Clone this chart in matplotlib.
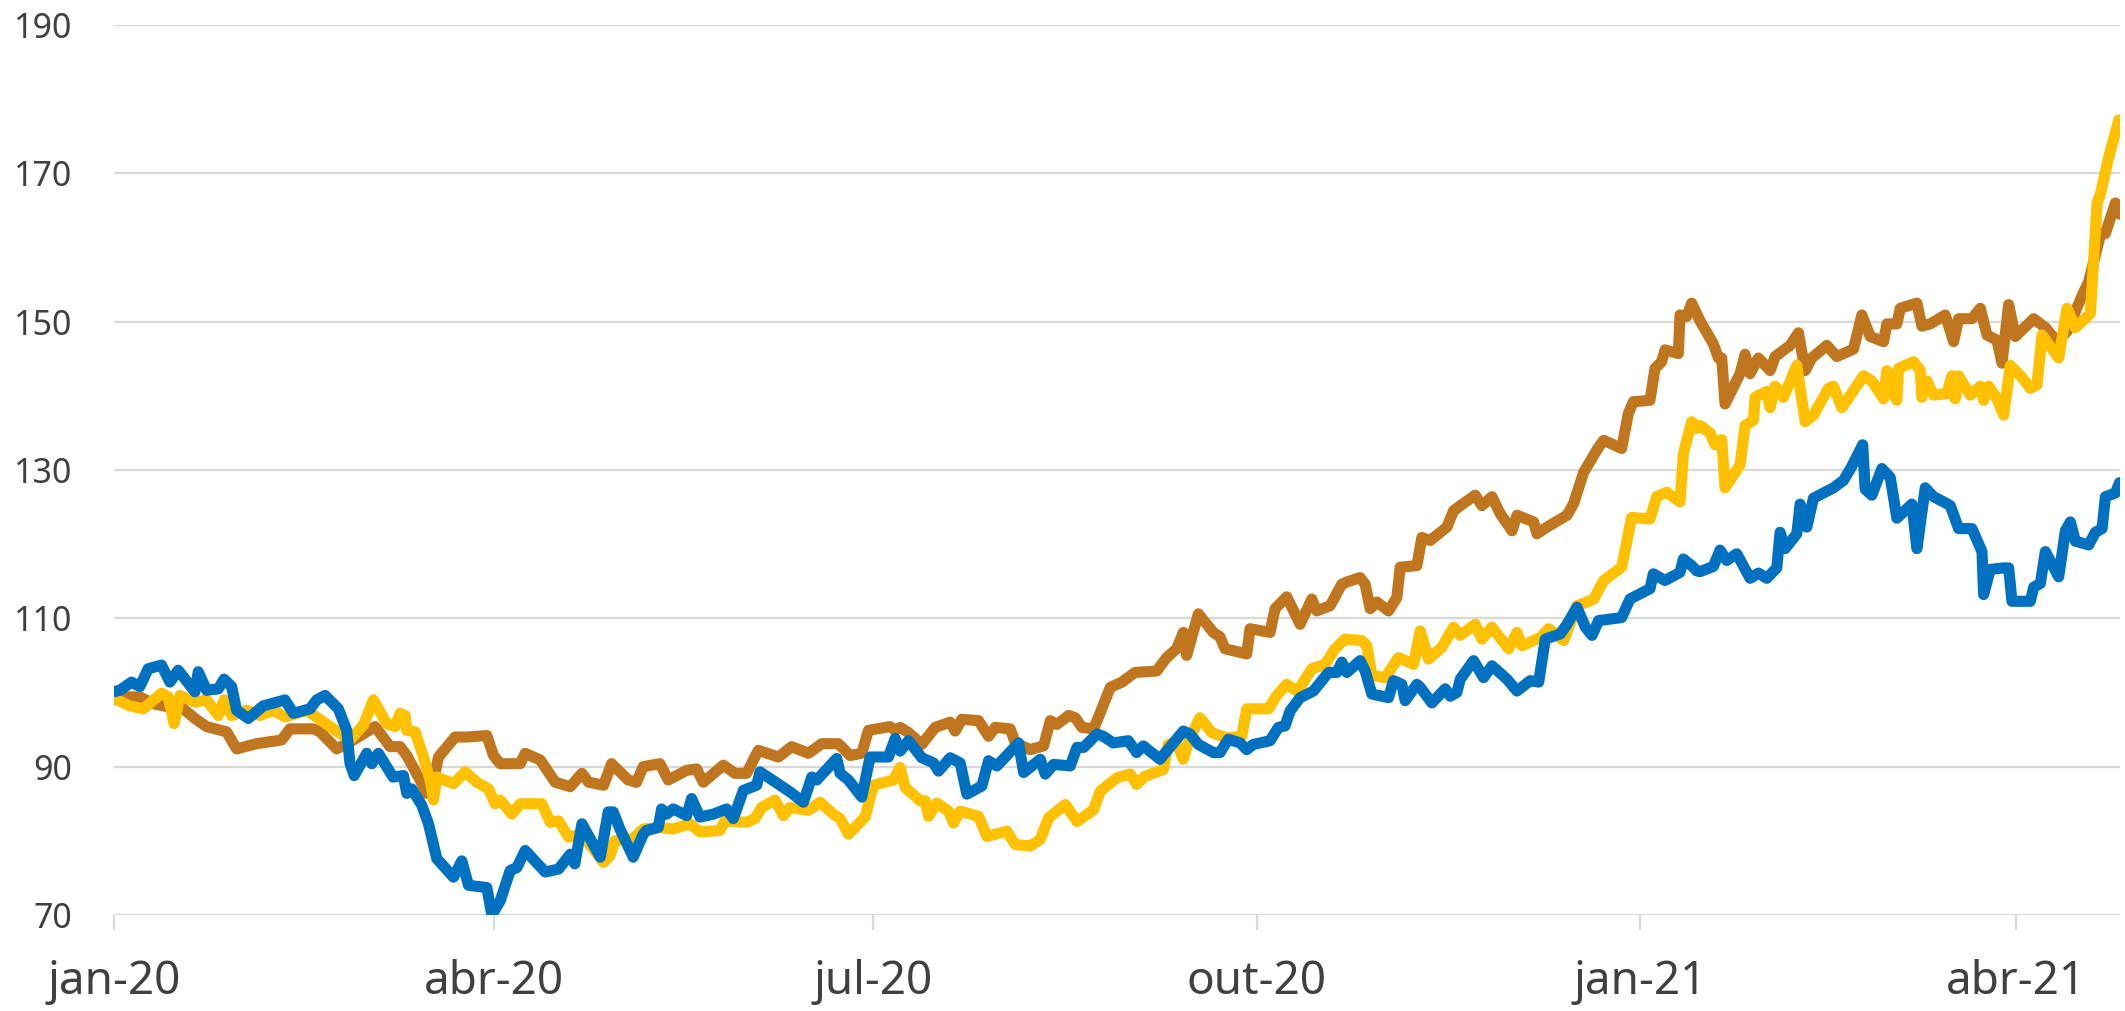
import numpy as np
import pandas as pd
import matplotlib
matplotlib.use("Agg")
import matplotlib.pyplot as plt

# Index series (base 100 on 2020-01-01); x values are days since 2020-01-01.
start_date = "2020-01-01"

blue_days = [
    0, 1.4, 4.2, 6.2, 8.2, 11.4, 13.4, 15.4, 19.4, 20.2, 22.2, 25.0, 26.4, 28.2, 29.4,
    32.2, 35.8, 41.0, 43.0, 47.0, 48.6, 50.6, 53.8, 55.8, 56.6, 57.6, 60.6, 61.8, 63.4,
    66.9, 69.4, 70.2, 71.4, 73.8, 75.4, 77.4, 81.4, 83.4, 85.0, 89.4, 90.6,
    92.6, 95.0, 96.6, 98.6, 103.4, 106.6, 109.4, 110.5, 112.2, 116.6, 118.5, 119.7,
    121.3, 124.5, 126.9, 127.7, 130.5, 131.3, 132.5, 134.1, 137.3, 138.5, 140.5, 143.7,
    146.9, 148.5, 150.9, 154.1, 154.9, 159.7, 162.1, 165.3, 167.3, 168.5, 173.3, 174.1,
    176.1, 179.3, 181.3, 185.7, 187.3,
    188.5, 190.5, 193.7, 196.5, 197.7, 200.5, 202.9, 204.5, 208.1, 209.7, 211.7, 216.9,
    218.1, 222.1, 223.3, 225.3, 229.3, 230.9, 232.5, 235.7, 237.2, 239.6, 243.2, 245.2,
    246.8, 250.8, 252.4, 256.4, 258.0, 260.0, 263.6, 265.2, 267.2, 270.0, 271.6, 273.2,
    277.2, 279.2, 280.8, 282.0,
    284.4, 287.6, 291.2, 293.2, 294.4, 295.6, 298.8, 300.0, 301.6, 305.6, 306.8, 308.8,
    309.6, 312.4, 313.2, 316.0, 319.2, 320.4, 322.0, 322.8, 326.0, 328.4, 330.4, 334.0,
    336.4, 339.6, 341.6, 343.2, 346.8, 348.4, 350.8, 352.8, 354.4, 356.0, 361.5, 363.5,
    368.3, 369.1, 371.9, 375.5, 376.3, 378.3, 379.5,
    380.3, 383.5, 385.1, 386.7, 389.1, 392.3, 394.3, 396.3, 398.7, 399.5, 400.7, 403.5,
    404.3, 405.9, 407.5, 412.3, 414.7, 416.7, 419.3, 419.9, 421.5, 423.9, 425.9, 427.5,
    431.1, 432.3, 434.3, 436.3, 438.7, 440.3, 442.3, 445.5, 447.9, 448.3, 449.9, 453.1,
    454.3, 455.1, 459.5, 460.3, 461.9, 463.1, 466.3, 467.9, 469.1, 470.3, 473.5, 475.1,
    476.7, 477.5, 479.9, 480.9,
]
blue_vals = [
    100.1, 100.3, 101.4, 100.8, 103.2, 103.7, 101.4, 103.0, 100.1, 102.8, 100.3, 100.5,
    101.8, 100.8, 97.6, 96.5, 98.2, 99.0, 97.2, 97.8, 99.0, 99.6, 97.8, 94.9, 90.4, 88.8,
    91.8, 90.4, 91.8, 88.6, 88.8, 86.4, 87.0, 84.8, 82.3, 77.6, 75.1, 77.3, 74.0, 73.7, 70.0,
    71.9, 76.0, 76.4, 78.7, 75.8, 76.2, 78.2, 76.9, 82.3, 77.8, 83.9, 83.9, 81.6, 77.8,
    80.9, 81.4, 81.8, 84.3, 83.6, 84.3, 83.4, 85.7, 83.2, 83.6, 84.3, 83.0, 86.8, 87.5,
    89.3, 87.5, 86.6, 85.2, 88.6, 88.2, 91.1, 89.1, 88.2, 85.9, 91.3, 91.3, 93.8,
    92.1, 93.5, 91.2, 90.5, 89.4, 91.2, 90.5, 86.3, 87.4, 90.8, 90.1, 93.2, 89.2, 91.0,
    89.0, 90.3, 90.1, 92.6, 92.6, 94.4, 94.1, 93.2, 93.5, 91.9, 92.8, 91.0, 92.1, 94.8,
    94.4, 93.0, 91.9, 91.9, 93.7, 93.2, 92.3, 93.0, 93.5, 95.3, 95.5, 97.5,
    99.3, 100.2, 102.7, 102.7, 104.1, 102.7, 104.3, 102.9, 99.8, 99.3, 101.6, 101.1, 98.9,
    101.1, 100.7, 98.6, 100.5, 99.5, 100.0, 101.8, 104.3, 102.0, 103.6, 101.8, 100.2,
    101.6, 101.4, 107.2, 107.9, 109.2, 111.5, 108.8, 107.7, 109.7, 110.1, 112.6, 114.0,
    116.0, 115.1, 116.2, 118.0, 117.1, 116.4,
    116.3, 117.0, 119.2, 117.8, 118.7, 115.4, 116.1, 115.4, 116.8, 121.6, 119.4, 121.4,
    125.4, 122.3, 126.2, 127.6, 128.6, 130.5, 133.4, 127.4, 126.6, 130.2, 129.0, 123.5,
    125.4, 119.4, 127.6, 126.4, 125.7, 125.2, 122.1, 122.1, 119.0, 113.2, 116.6, 116.8,
    116.8, 112.3, 112.3, 114.2, 114.7, 119.0, 115.6, 121.8, 123.0, 120.4, 119.9, 121.6,
    122.1, 126.4, 126.9, 128.3,
]

gold_days = [
    0, 3.8, 7.0, 11.4, 13.0, 14.4, 15.8, 19.4, 22.2, 25.0, 26.4, 28.2, 31.8, 35.0, 38.2,
    41.0, 46.2, 52.6, 56.6, 59.8, 62.2, 65.4, 67.4, 68.6, 69.8, 70.2, 72.2, 74.2, 75.8,
    76.6, 77.4, 81.4, 84.2, 87.0, 89.8, 91.4,
    92.6, 95.4, 97.4, 102.6, 104.6, 106.6, 109.0, 112.2, 117.4, 118.9, 120.1, 124.5,
    126.9, 130.9, 134.1, 138.1, 140.5, 145.3, 146.5, 151.7, 153.7, 155.3, 158.5, 160.5,
    162.1, 166.5, 169.3, 172.5, 174.1, 176.1, 180.1, 182.1, 186.9,
    188.5, 189.7, 193.3, 194.5, 195.3, 197.3, 200.1, 201.3, 202.9, 207.3, 209.3, 214.1,
    216.1, 219.7, 222.1, 224.1, 228.1, 230.9, 234.9, 236.5, 240.5, 243.7, 245.2, 247.2,
    251.6, 252.8, 254.8, 256.4, 258.0, 260.4, 263.2, 265.6, 267.2, 270.4, 271.6, 273.6,
    276.8, 278.8, 281.2, 283.6,
    284.4, 287.2, 290.4, 292.8, 295.2, 299.2, 300.4, 301.6, 304.8, 308.0, 311.6, 313.2,
    315.2, 318.4, 321.2, 322.8, 326.4, 328.0, 330.4, 334.4, 336.4, 337.6, 342.0, 344.0,
    347.6, 350.8, 353.2, 354.8, 357.2, 361.5, 363.9, 368.3, 369.9, 372.3, 375.5, 376.3,
    378.3, 379.5,
    380.3, 382.7, 383.9, 385.5, 386.3, 389.9, 391.1, 393.1, 393.5, 396.3, 397.1, 398.3,
    400.3, 403.5, 405.5, 407.5, 411.1, 412.3, 414.3, 419.5, 421.5, 424.3, 425.1, 426.3,
    427.5, 427.9, 431.5, 433.1, 433.5, 434.7, 436.3, 439.5, 440.7, 441.5, 442.3, 445.1,
    447.5, 448.3, 449.5, 451.5, 453.1, 454.7, 457.5, 459.5, 461.1, 462.3, 466.3, 468.3,
    470.3, 473.9, 475.5, 476.3, 478.3, 480.7,
]
gold_vals = [
    99.2, 98.2, 97.8, 99.9, 99.4, 95.8, 99.6, 98.7, 99.0, 96.9, 99.0, 96.9, 97.6, 96.9,
    97.6, 96.7, 97.6, 95.1, 93.6, 95.6, 99.0, 95.8, 95.4, 97.2, 96.9, 94.9, 94.7, 91.3,
    88.2, 85.5, 88.6, 87.7, 89.3, 87.9, 87.0, 85.0,
    85.5, 83.6, 85.0, 85.0, 82.5, 82.7, 80.5, 80.9, 77.1, 78.0, 80.0, 80.3, 81.6, 81.8,
    81.6, 82.3, 81.2, 81.4, 82.7, 82.5, 83.0, 84.5, 85.5, 83.4, 84.5, 84.1, 85.2, 83.6,
    83.0, 80.9, 83.2, 87.5, 88.2,
    89.9, 87.2, 85.4, 85.4, 83.3, 85.1, 84.0, 82.4, 84.0, 83.3, 80.6, 81.3, 79.5, 79.3,
    80.2, 83.1, 84.9, 82.6, 84.2, 86.7, 88.5, 89.0, 87.6, 88.7, 89.6, 93.0, 93.2, 91.0,
    93.9, 96.6, 94.6, 94.1, 93.9, 94.1, 97.8, 97.8, 97.8, 99.6, 101.1, 100.2,
    100.7, 103.2, 103.8, 105.9, 107.2, 107.0, 106.3, 102.3, 102.0, 104.7, 103.8, 108.3,
    104.5, 106.1, 108.8, 107.7, 109.2, 107.2, 108.8, 105.9, 108.1, 106.3, 107.4, 108.6,
    107.0, 111.7, 112.2, 112.6, 115.1, 116.9, 123.6, 123.4, 126.4, 127.0, 125.7, 132.2,
    136.5, 135.6,
    136.0, 135.0, 133.4, 134.1, 127.6, 130.7, 136.0, 136.7, 139.8, 140.6, 138.4, 141.3,
    139.8, 144.1, 136.5, 137.4, 141.0, 141.3, 138.4, 142.7, 142.0, 139.6, 143.4, 140.6,
    139.4, 143.7, 144.6, 143.4, 139.8, 142.0, 140.1, 140.3, 142.7, 139.6, 142.7, 140.1,
    141.3, 139.4, 141.3, 139.6, 137.4, 144.1, 142.5, 141.0, 141.5, 148.2, 145.1, 151.8,
    149.2, 151.1, 166.0, 167.2, 172.2, 177.2,
]

brown_days = [
    0, 3.0, 6.2, 9.4, 12.6, 16.6, 19.4, 22.2, 27.0, 29.4, 34.2, 40.2, 42.2, 47.8, 49.4,
    53.4, 57.4, 62.6, 66.2, 68.6, 70.2, 73.4, 75.0, 77.0, 77.8, 81.8, 84.6, 89.4, 91.0,
    92.6, 97.4, 98.6, 102.2, 105.8, 109.4, 112.2, 113.8, 117.4, 119.3, 123.3, 125.3,
    126.9, 130.9, 132.9, 137.3, 139.7, 141.3, 146.1, 148.9, 151.7, 154.5, 159.3, 162.5,
    166.5, 169.7, 173.7, 176.5, 179.3, 180.9, 186.1, 187.3,
    188.5, 190.5, 193.7, 196.9, 200.5, 201.7, 203.3, 207.3, 209.7, 211.3, 214.9, 216.1,
    219.7, 222.9, 224.5, 226.1, 228.9, 230.5, 232.1, 234.9, 236.5, 238.9, 241.7, 244.8,
    250.0, 252.4, 254.8, 256.4, 257.2, 260.0, 263.6, 265.2, 266.4, 271.6, 272.4, 277.2,
    278.4, 281.2,
    284.4, 287.2, 288.4, 291.6, 294.4, 295.6, 298.8, 300.0, 301.2, 302.8, 305.6, 307.6,
    308.4, 312.4, 313.6, 315.6, 319.6, 321.2, 323.6, 326.4, 328.0, 330.4, 332.4, 335.2,
    336.4, 340.4, 341.2, 343.6, 348.4, 350.0, 352.4, 356.0, 357.2, 361.5, 363.1, 364.3,
    368.3, 369.5, 371.1, 371.9, 375.1, 375.5, 377.1, 378.3,
    380.3, 383.5, 384.7, 385.5, 386.3, 389.9, 391.1, 392.3, 394.3, 397.1, 398.3, 401.9,
    403.9, 405.5, 407.1, 410.7, 413.1, 417.1, 419.1, 421.1, 424.3, 425.1, 427.5, 428.3,
    432.3, 433.5, 435.5, 439.1, 441.1, 442.3, 445.5, 447.5, 449.1, 451.5, 452.7, 454.3,
    455.9, 460.3, 463.1, 465.9, 468.3, 471.9, 473.5, 476.3, 477.5, 479.9, 480.9,
]
brown_vals = [
    99.0, 99.4, 99.4, 98.5, 98.1, 97.8, 96.5, 95.4, 94.7, 92.4, 93.1, 93.6, 95.1, 95.1,
    94.7, 92.4, 93.6, 95.4, 92.7, 92.7, 91.5, 88.2, 86.4, 89.1, 91.3, 94.0, 94.0, 94.2, 91.5,
    90.4, 90.4, 91.8, 90.9, 87.9, 87.3, 89.1, 87.9, 87.5, 90.4, 88.2, 87.9, 90.0, 90.4,
    88.2, 89.5, 89.7, 87.9, 90.2, 89.1, 89.1, 92.2, 91.3, 92.7, 91.8, 93.1, 93.1, 91.5,
    91.8, 94.9, 95.4, 94.9,
    95.3, 94.6, 93.0, 95.3, 96.0, 94.8, 96.4, 96.2, 94.1, 95.3, 95.1, 93.2, 92.3, 92.8,
    96.2, 95.7, 96.9, 96.6, 95.3, 95.1, 97.3, 100.7, 101.4, 102.7, 102.9, 104.7, 105.9,
    108.1, 105.0, 110.6, 108.1, 107.5, 105.9, 105.2, 108.6, 108.1, 111.3, 112.9,
    109.2, 112.6, 111.0, 111.7, 114.6, 114.9, 115.5, 114.6, 111.3, 112.2, 111.0, 112.8,
    116.9, 117.1, 120.9, 120.5, 122.3, 124.5, 125.5, 126.6, 125.2, 126.4, 124.1, 121.8,
    123.9, 123.0, 121.4, 122.3, 123.9, 125.5, 129.7, 133.1, 134.0, 132.9, 137.6, 139.2,
    139.4, 143.7, 144.6, 146.2, 145.7, 150.9, 150.7, 152.5,
    150.1, 147.0, 145.1, 145.1, 138.9, 143.0, 145.6, 143.0, 145.1, 143.4, 145.3, 146.8,
    148.5, 143.4, 145.1, 146.8, 145.3, 146.3, 150.9, 148.0, 147.3, 149.7, 149.7, 151.8,
    152.5, 149.4, 149.7, 150.9, 147.3, 150.4, 150.4, 151.8, 148.2, 147.5, 144.4, 152.3,
    148.0, 150.4, 149.2, 147.3, 148.7, 153.5, 155.4, 161.7, 161.9, 166.0, 164.5,
]

tick_dates = ["2020-01-01", "2020-04-01", "2020-07-01", "2020-10-01", "2021-01-01", "2021-04-01"]
tick_labels = ["jan-20", "abr-20", "jul-20", "out-20", "jan-21", "abr-21"]
y_ticks = [70, 90, 110, 130, 150, 170, 190]

BLUE = "#0070C0"
GOLD = "#FFC000"
BROWN = "#C0761F"
GRID = "#D9D9D9"
TEXT = "#404040"

plt.rcParams["font.family"] = ["Noto Sans", "DejaVu Sans"]


def to_dates(days):
    return pd.Timestamp(start_date) + pd.to_timedelta(np.asarray(days), unit="D")


fig = plt.figure(figsize=(21.25, 10.11), dpi=100)
ax = fig.add_axes([114 / 2125, 96 / 1011, (2120 - 114) / 2125, 890 / 1011])

line_kw = dict(lw=8, solid_joinstyle="round", solid_capstyle="round")
ax.plot(to_dates(brown_days), brown_vals, color=BROWN, zorder=3, **line_kw)
ax.plot(to_dates(gold_days), gold_vals, color=GOLD, zorder=4, **line_kw)
ax.plot(to_dates(blue_days), blue_vals, color=BLUE, zorder=5, **line_kw)

ax.set_ylim(70, 190)
ax.set_xlim(pd.Timestamp(start_date), pd.Timestamp(start_date) + pd.Timedelta(days=481))

ax.set_yticks(y_ticks)
ax.set_yticklabels([str(v) for v in y_ticks])
ax.set_xticks(pd.to_datetime(tick_dates))
ax.set_xticklabels(tick_labels)

ax.grid(axis="y", color=GRID, lw=1.6, zorder=1)
ax.set_axisbelow(True)
for s in ax.spines.values():
    s.set_visible(False)

ax.tick_params(axis="y", length=0, pad=30, labelsize=24.5, labelcolor=TEXT)
ax.tick_params(axis="x", length=11, width=1.6, color=GRID, pad=21, labelsize=33, labelcolor=TEXT)

fig.savefig("out.png", dpi=100, facecolor="white")
